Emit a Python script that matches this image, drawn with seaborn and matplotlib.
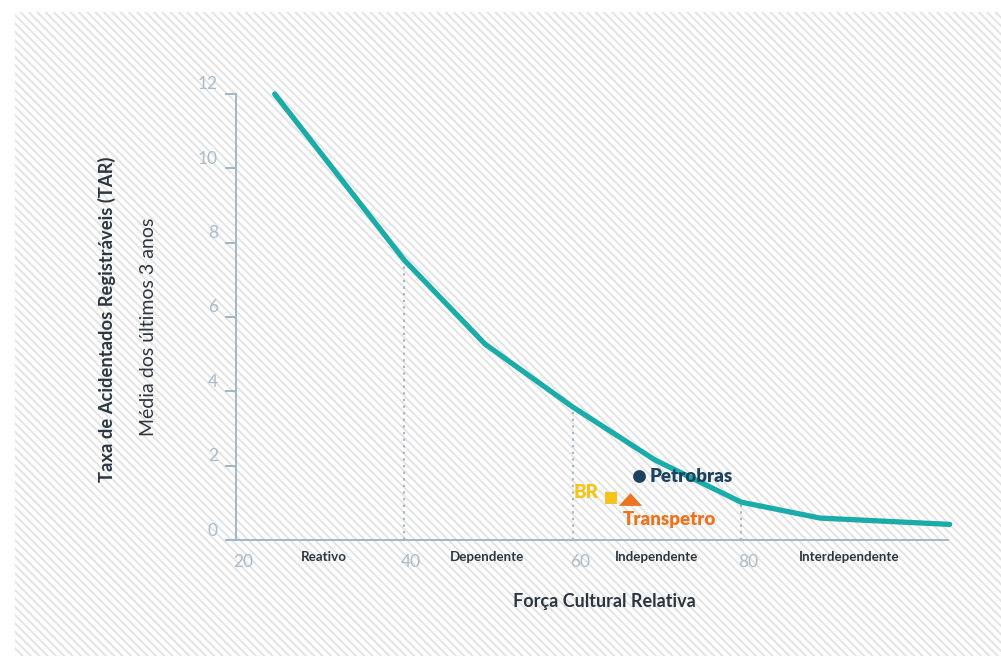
import matplotlib
matplotlib.use('Agg')
import matplotlib.pyplot as plt
import matplotlib.transforms as mtransforms
from matplotlib.patches import Rectangle
import seaborn as sns
import pandas as pd

# curva de referência
forca = [24.6, 40, 49.6, 60, 69.8, 80, 89.4, 104.8]
tar = [12.0, 7.53, 5.27, 3.58, 2.15, 1.02, 0.59, 0.42]

# empresas
empresas = ['Petrobras', 'BR', 'Transpetro']
emp_x = [67.9, 64.5, 66.8]
emp_y = [1.72, 1.13, 1.10]

# faixas culturais
faixas = ['Reativo', 'Dependente', 'Independente', 'Interdependente']
faixas_x = [30.5, 49.8, 70.0, 92.8]
divisoes = [40, 60, 80]

y_ticks = [0, 2, 4, 6, 8, 10, 12]
x_ticks = [20, 40, 60, 80]

AXIS = '#a3b6c8'
TICK = '#a9bccb'
DARK = '#2b3640'
TEAL = '#1aaca8'

sns.set_style('white')
plt.rcParams['font.family'] = ['Lato', 'DejaVu Sans']
plt.rcParams['hatch.color'] = '#e3e3e3'
plt.rcParams['hatch.linewidth'] = 1.4

fig = plt.figure(figsize=(10.01, 6.56), dpi=100)
# fundo hachurado
fig.patches.append(Rectangle((15 / 1001, 0), 1, 1 - 12 / 656, transform=fig.transFigure,
                             facecolor='white', edgecolor='#e3e3e3', hatch='\\\\\\\\',
                             linewidth=0, zorder=-10))

ax = fig.add_axes([236 / 1001, 1 - 540 / 656, 712 / 1001, 446 / 656])
ax.patch.set_alpha(0)

df = pd.DataFrame({'forca': forca, 'tar': tar})
sns.lineplot(data=df, x='forca', y='tar', ax=ax, color=TEAL, linewidth=3.8,
             solid_capstyle='round', clip_on=False, zorder=3)

# linhas pontilhadas das divisões
for d in divisoes:
    v = tar[forca.index(d)]
    ax.plot([d, d], [0, v], color=AXIS, linestyle=(0, (1.2, 2.2)), linewidth=1.4, zorder=2)

# empresas
cores = ['#1c4262', '#f6c418', '#ec7320']
marcadores = ['o', 's', [(-1, -0.55), (1, -0.55), (0, 0.55)]]
tamanhos = [85, 70, 280]
for nome, x, y, c, m, s in zip(empresas, emp_x, emp_y, cores, marcadores, tamanhos):
    sns.scatterplot(x=[x], y=[y], ax=ax, color=c, marker=m, s=s, linewidth=0, zorder=4)
ax.text(69.2, 1.72, 'Petrobras', color=cores[0], fontsize=13.5, fontweight='heavy', va='center', ha='left')
ax.text(63.1, 1.27, 'BR', color=cores[1], fontsize=13.5, fontweight='heavy', va='center', ha='right')
ax.text(71.5, 0.56, 'Transpetro', color=cores[2], fontsize=13.5, fontweight='heavy', va='center', ha='center')

for nome, x in zip(faixas, faixas_x):
    ax.text(x, -0.45, nome, color=DARK, fontsize=9.6, fontweight='bold', ha='center', va='center')

ax.set_xlim(20, 104.6)
ax.set_ylim(0, 12)
ax.set_yticks(y_ticks)
ax.set_xticks(x_ticks)
ax.set_xlabel('')
ax.set_ylabel('')
for s in ['top', 'right']:
    ax.spines[s].set_visible(False)
ax.spines['left'].set_color(AXIS)
ax.spines['bottom'].set_color(AXIS)
ax.spines['left'].set_linewidth(1.4)
ax.spines['bottom'].set_linewidth(1.4)
ax.spines['left'].set_bounds(0, 12)
ax.spines['bottom'].set_bounds(19.1, 104.6)
ax.tick_params(axis='y', left=True, direction='out', length=8, width=1.4, color=AXIS,
               labelcolor=TICK, labelsize=12.5, pad=5)
ax.tick_params(axis='x', bottom=False, length=0, labelcolor=TICK, labelsize=12.5, pad=10)

off_y = mtransforms.ScaledTranslation(0, 11 / 100, fig.dpi_scale_trans)
for lab in ax.get_yticklabels():
    lab.set_transform(lab.get_transform() + off_y)
off_x = mtransforms.ScaledTranslation(7 / 100, 0, fig.dpi_scale_trans)
for lab in ax.get_xticklabels():
    lab.set_transform(lab.get_transform() + off_x)

fig.text(107 / 1001, 1 - 319 / 656, 'Taxa de Acidentados Registráveis (TAR)', rotation=90,
         ha='center', va='center', fontsize=13.2, fontweight='bold', color=DARK)
fig.text(148 / 1001, 1 - 327 / 656, 'Média dos últimos 3 anos', rotation=90,
         ha='center', va='center', fontsize=14, color=DARK)
fig.text(604 / 1001, 1 - 601 / 656, 'Força Cultural Relativa', ha='center', va='center',
         fontsize=13, fontweight='bold', color=DARK)

fig.savefig('out.png', dpi=100)
